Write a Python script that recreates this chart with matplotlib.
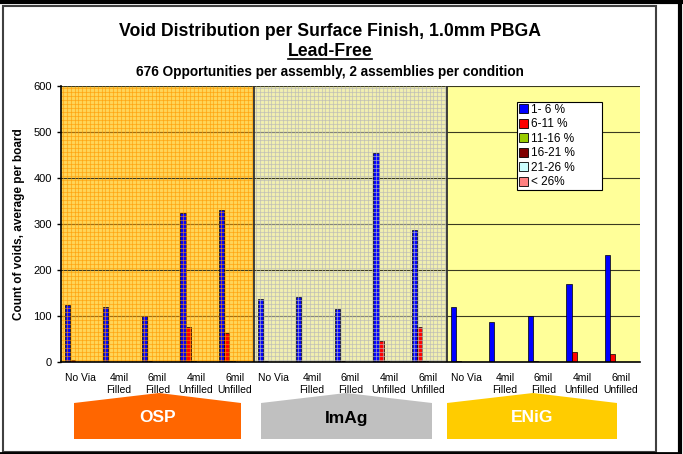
#!/usr/bin/env python3
"""Void distribution per surface finish, 1.0mm PBGA (lead-free)."""

import numpy as np
import matplotlib
matplotlib.use("Agg")
import matplotlib.pyplot as plt
from matplotlib.patches import Patch, Polygon, Rectangle
from matplotlib.lines import Line2D

plt.rcParams["font.family"] = ["Liberation Sans", "DejaVu Sans"]

# ---- data -------------------------------------------------------------
conditions = ["No Via", "4mil\nFilled", "6mil\nFilled", "4mil\nUnfilled", "6mil\nUnfilled"]
finishes = ["OSP", "ImAg", "ENiG"]
series_names = ["1- 6 %", "6-11 %", "11-16 %", "16-21 %", "21-26 %", "< 26%"]

void_1_6 = [125, 120, 100, 325, 330, 138, 142, 115, 455, 287, 120, 88, 100, 170, 232]
void_6_11 = [5, 0.5, 3, 77, 63, 2, 1, 3, 45, 77, 3, 0.5, 2, 22, 18]
void_11_16 = [1, 0.5, 1, 3, 3, 1, 1, 1, 2, 2, 1, 0, 0.5, 1, 1]
void_16_21 = [0.5, 0, 0.5, 0.5, 0.5, 0, 0, 0, 0, 0, 0.5, 0, 0, 0, 0]
void_21_26 = [0, 0, 0, 0, 0, 0, 0, 0, 0, 0, 0, 0, 0, 0, 0]
void_over_26 = [0, 0, 0, 0, 0, 0, 0, 0, 0, 0, 0, 0, 0, 0, 0]

series = [void_1_6, void_6_11, void_11_16, void_16_21, void_21_26, void_over_26]
series_colors = ["#0000FF", "#FF0000", "#99CC00", "#800000", "#CCFFFF", "#FF8080"]

# ---- figure -----------------------------------------------------------
W, H = 683, 454
fig = plt.figure(figsize=(W / 100, H / 100), dpi=100)
ax = fig.add_axes([61 / W, 92 / H, 579 / W, 276 / H])


def fx(px):
    return px / W


def fy(py):
    return 1 - py / H


n_cat = len(conditions) * len(finishes)
x = np.arange(n_cat)
width = 0.135

# region backgrounds
ax.axvspan(-0.5, 4.5, color="#FFD65A", zorder=0)
ax.axvspan(4.5, 9.5, color="#F2F0B0", zorder=0)
ax.axvspan(9.5, 14.5, color="#FFFF99", zorder=0)

# major gridlines
for yv in range(100, 601, 100):
    ax.axhline(yv, color="#3a3a20", lw=0.8, zorder=1)

for i, (vals, col) in enumerate(zip(series, series_colors)):
    ax.bar(x + (i - 2.5) * width, vals, width, color=col,
           edgecolor="black", linewidth=0.5, zorder=2)

# fine pattern on top of the OSP and ImAg panels
for x0, x1, lc, a in [(-0.5, 4.5, "#FF9900", 0.55), (4.5, 9.5, "#B8B8B8", 0.6)]:
    ax.vlines(np.arange(x0 + 0.05, x1, 0.1), 0, 600, color=lc, lw=0.8, alpha=a, zorder=3)
    ax.hlines(np.arange(4, 600, 8.7), x0, x1, color=lc, lw=0.8, alpha=a, zorder=3)

ax.axvline(4.5, color="#303030", lw=1.3, zorder=4)
ax.axvline(9.5, color="#303030", lw=1.3, zorder=4)

ax.set_xlim(-0.5, 14.5)
ax.set_ylim(0, 600)
ax.set_yticks(range(0, 601, 100))
ax.set_xticks(x)
ax.set_xticklabels(conditions * 3)
ax.tick_params(axis="x", length=0, labelsize=7.5, pad=8)
ax.tick_params(axis="y", length=3, direction="out", labelsize=8, width=1)
for s in ["top", "right"]:
    ax.spines[s].set_visible(False)
ax.spines["left"].set_linewidth(1.2)
ax.spines["bottom"].set_linewidth(1.2)
ax.spines["left"].set_zorder(5)
ax.spines["bottom"].set_zorder(5)

ax.set_ylabel("Count of voids, average per board", fontsize=8.5, fontweight="bold", labelpad=6)

# legend: white box drawn separately, entries placed inside it
fig.add_artist(Rectangle((fx(517), fy(190)), fx(602) - fx(517), 88 / H,
                         facecolor="white", edgecolor="black", lw=0.8,
                         transform=fig.transFigure, zorder=5))
handles = [Patch(facecolor=c, edgecolor="black", linewidth=0.6) for c in series_colors]
leg = fig.legend(handles, series_names, loc="upper left",
                 bbox_to_anchor=(fx(519), fy(104)), bbox_transform=fig.transFigure,
                 fontsize=8.5, frameon=False,
                 handlelength=0.8, handleheight=0.8, handletextpad=0.25,
                 labelspacing=0.21, borderpad=0, borderaxespad=0)
leg.set_zorder(6)

# ---- titles -----------------------------------------------------------
cx = fx(330)
fig.text(cx, fy(31), "Void Distribution per Surface Finish, 1.0mm PBGA",
         ha="center", va="center", fontsize=12.7, fontweight="bold")
lf = fig.text(cx, fy(51), "Lead-Free", ha="center", va="center", fontsize=12.7, fontweight="bold")
fig.text(cx, fy(72), "676 Opportunities per assembly, 2 assemblies per condition",
         ha="center", va="center", fontsize=9.8, fontweight="bold")

renderer = fig.canvas.get_renderer()
bb = lf.get_window_extent(renderer)
fig.add_artist(Line2D([bb.x0 / W, bb.x1 / W], [(bb.y0 + 1) / H] * 2,
                      color="black", lw=1.2, transform=fig.transFigure))

# ---- finish banners ---------------------------------------------------
banners = [(74, 241, 159, "#FF6600", "white"),
           (261, 432, 346, "#C0C0C0", "black"),
           (447, 617, 533, "#FFCC00", "white")]
for (l, r, pk, fc, tc), name in zip(banners, finishes):
    pts = [(fx(l), fy(439)), (fx(l), fy(403)), (fx(pk), fy(393)),
           (fx(r), fy(403)), (fx(r), fy(439))]
    fig.add_artist(Polygon(pts, closed=True, facecolor=fc, edgecolor="none",
                           transform=fig.transFigure))
    fig.text(fx((l + r) / 2), fy(418), name, ha="center", va="center",
             fontsize=12.5, fontweight="bold", color=tc)

# ---- frames -----------------------------------------------------------
fig.add_artist(Rectangle((fx(3), fy(452)), fx(653), 446 / H, fill=False,
                         edgecolor="#404040", lw=1.5, transform=fig.transFigure))
fig.add_artist(Line2D([0, 1], [fy(2), fy(2)], color="black", lw=3, transform=fig.transFigure))
fig.add_artist(Line2D([fx(680), fx(680)], [fy(2), fy(453)], color="black", lw=3,
                      transform=fig.transFigure))
fig.add_artist(Line2D([fx(0), fx(680)], [fy(453), fy(453)], color="black", lw=2,
                      transform=fig.transFigure))

fig.savefig("out.png", dpi=100, facecolor="white")
